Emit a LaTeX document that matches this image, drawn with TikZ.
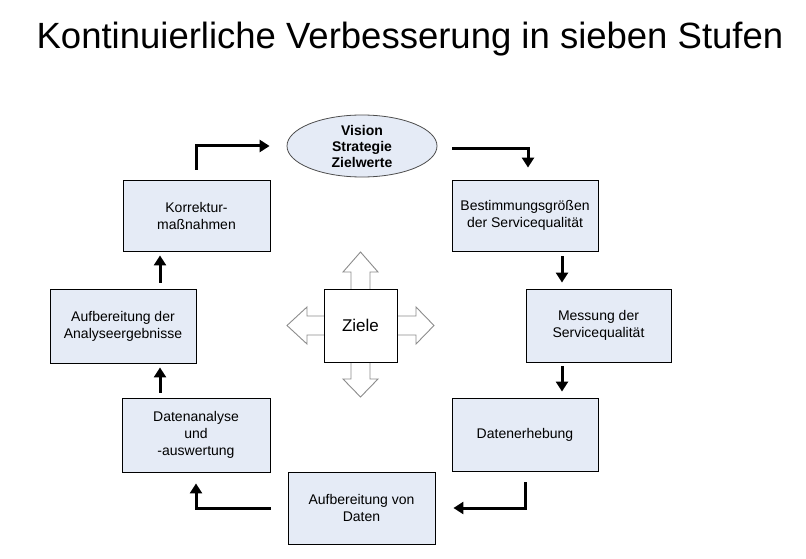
\documentclass[tikz,border=0pt]{standalone}
\usepackage{fontspec}
\setmainfont{Liberation Sans}
\usetikzlibrary{arrows.meta,calc,shapes.geometric}
\definecolor{boxfill}{RGB}{229,235,246}
\tikzset{
  stepbox/.style={draw=black,line width=0.9pt,fill=boxfill,align=center,inner sep=2pt,
    font=\fontsize{14}{17}\selectfont},
  conn/.style={line width=3pt,-{Triangle[length=10pt,width=12pt]}},
  hollow/.style={draw=gray!90,line width=0.9pt,fill=white},
}
\begin{document}
\begin{tikzpicture}[x=1pt,y=-1pt]
\useasboundingbox (0,0) rectangle (806,559);
% title
\node (title) at (410,39) {\fontsize{36.5}{40}\selectfont Kontinuierliche Verbesserung in sieben Stufen};
% hollow arrows around Ziele
\draw[hollow] (351,289) -- (351,272) -- (343,272) -- (360.5,252) -- (378,272) -- (370,272) -- (370,289);
\draw[hollow] (351,362) -- (351,379) -- (343,379) -- (360.5,397) -- (378,379) -- (370,379) -- (370,362);
\draw[hollow] (324,316) -- (307,316) -- (307,307) -- (287,325.5) -- (307,344) -- (307,335) -- (324,335);
\draw[hollow] (397,316) -- (416,316) -- (416,307) -- (434,325.5) -- (416,344) -- (416,335) -- (397,335);
% nodes
\node[ellipse,draw=black!70,line width=0.8pt,fill=boxfill,minimum width=150pt,minimum height=62pt,inner sep=0pt,align=center,font=\bfseries\fontsize{14}{16}\selectfont]
  (V) at (362,146) {Vision\\Strategie\\Zielwerte};
\node[stepbox,minimum width=147pt,minimum height=71pt] (K) at (196.5,215.5) {Korrektur-\\maßnahmen};
\node[stepbox,minimum width=146pt,minimum height=74pt] (A) at (123,326) {Aufbereitung der\\Analyseergebnisse};
\node[stepbox,minimum width=148pt,minimum height=74pt] (D) at (196,435) {Datenanalyse\\und\\-auswertung};
\node[stepbox,minimum width=146pt,minimum height=71pt] (B) at (525,215.5) {Bestimmungsgrößen\\der Servicequalität};
\node[stepbox,minimum width=145pt,minimum height=73pt] (M) at (598.5,325.5) {Messung der\\Servicequalität};
\node[stepbox,minimum width=146pt,minimum height=73pt] (E) at (525,434.5) {Datenerhebung};
\node[stepbox,minimum width=147pt,minimum height=72pt] (AV) at (361.5,508) {Aufbereitung von\\Daten};
\node[draw=black,line width=0.9pt,fill=white,minimum width=73pt,minimum height=73pt,inner sep=0pt,font=\fontsize{17}{20}\selectfont] (Z) at (360.5,325.5) {Ziele};
% connectors
\draw[conn,shorten <=10pt,shorten >=17pt] (K.north) |- (V.west);
\draw[conn,shorten <=15pt,shorten >=12pt] ([yshift=-3pt]V.east) -| ([xshift=3pt]B.north);
\draw[conn,shorten <=5pt,shorten >=6pt] ([xshift=37pt]B.south) -- ([xshift=-36.5pt]M.north);
\draw[conn,shorten <=4pt,shorten >=6pt] ([xshift=-36.5pt]M.south) -- ([xshift=37pt]E.north);
\draw[conn,shorten <=11pt,shorten >=18pt] (E.south) |- (AV.east);
\draw[conn,shorten <=17pt,shorten >=11pt] (AV.west) -| (D.south);
\draw[conn,shorten <=5pt,shorten >=4pt] ([xshift=-36pt]D.north) -- ([xshift=37pt]A.south);
\draw[conn,shorten <=6pt,shorten >=4pt] ([xshift=37pt]A.north) -- ([xshift=-36.5pt]K.south);
\end{tikzpicture}
\end{document}
